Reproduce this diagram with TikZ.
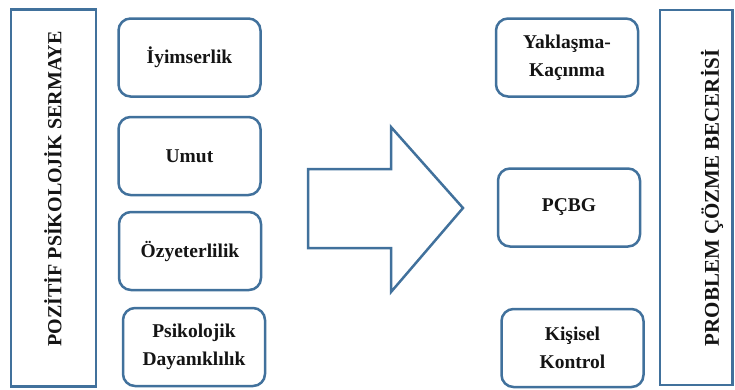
\documentclass[tikz,border=0pt]{standalone}
\usepackage{fontspec}
\setmainfont{Liberation Serif}
\usetikzlibrary{positioning}
\definecolor{boxBlue}{RGB}{65,113,156}
\definecolor{textBlack}{gray}{0.08}

\begin{document}
\begin{tikzpicture}[x=1pt, y=-1pt,
    kutu/.style={draw=boxBlue, line width=2.5pt, rounded corners=12pt, fill=white,
        minimum width=142pt, minimum height=78pt, inner sep=0pt, align=center,
        text=textBlack, font=\bfseries\fontsize{19.5}{27.5}\selectfont},
    cerceve/.style={draw=boxBlue, line width=2.5pt},
    dikey/.style={rotate=90, text=textBlack, font=\bfseries\fontsize{20}{24}\selectfont}]
    \useasboundingbox (0,0) rectangle (735,389);

    % sol taraf
    \draw[cerceve] (11,9.5) rectangle (96,386.5);
    \node[dikey] (pps) at (53,189) {POZİTİF PSİKOLOJİK SERMAYE};

    \node[kutu] (iyimser) at (189.5,57.5) {İyimserlik};
    \node[kutu] (umut) at (189.5,156) {Umut};
    \node[kutu] (oz) at (190,251) {Özyeterlilik};
    \node[kutu] (dayan) at (194,347) {Psikolojik\\Dayanıklılık};

    % ok
    \draw[cerceve, line join=miter] (308,169) -- (391,169) -- (391,127) -- (463,208)
        -- (391,292) -- (391,248) -- (308,248) -- cycle;

    % sag taraf
    \node[kutu] (yaklasma) at (567,57.5) {Yaklaşma-\\Kaçınma};
    \node[kutu] (pcbg) at (569,207.5) {PÇBG};
    \node[kutu] (kisisel) at (572.5,348) {Kişisel\\Kontrol};

    \draw[cerceve] (660,10) rectangle (732.5,385);
    \node[dikey, font=\bfseries\fontsize{21}{24}\selectfont] (pcb) at (712,198) {PROBLEM ÇÖZME BECERİSİ};
\end{tikzpicture}
\end{document}
